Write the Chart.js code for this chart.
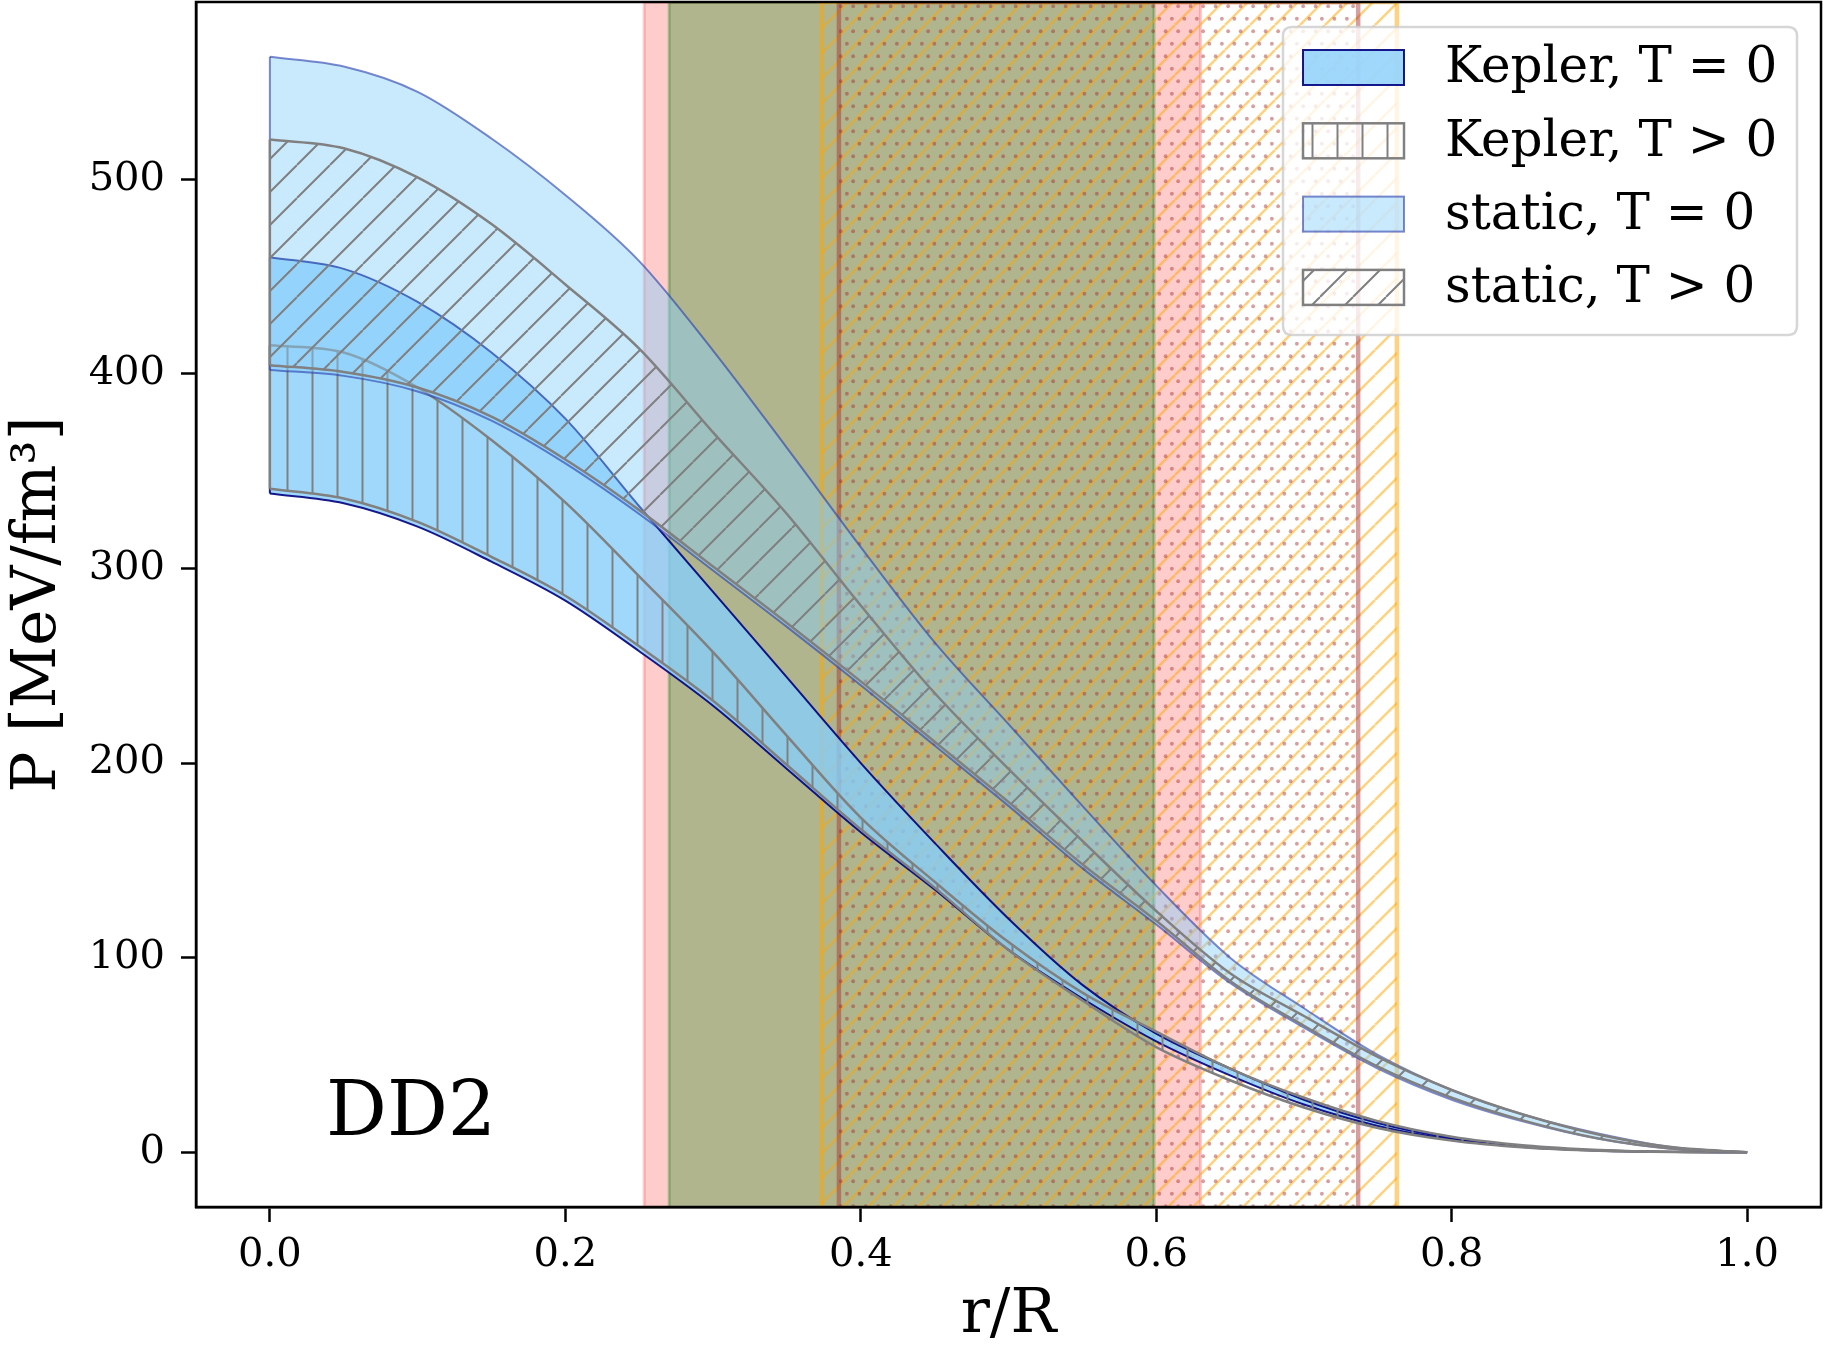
<!DOCTYPE html>
<html>
<head>
<meta charset="utf-8">
<script src="https://cdn.jsdelivr.net/npm/chart.js@4.4.1/dist/chart.umd.min.js"></script>
<style>
  html, body { margin: 0; padding: 0; background: #fff; }
  #wrap { position: relative; width: 1823px; height: 1347px; }
</style>
</head>
<body>
<div id="wrap"><canvas id="myChart"></canvas></div>
<script>
// r/R sample points, shared by every curve
const rGrid = [0, 0.05, 0.1, 0.15, 0.2, 0.25, 0.3, 0.35, 0.4, 0.45, 0.5,
               0.55, 0.6, 0.65, 0.7, 0.75, 0.8, 0.85, 0.9, 0.95, 1.0];

// pressure bands, P [MeV/fm^3]
const keplerColdHi = [460, 454, 437, 411, 377, 332, 288, 244, 200, 159, 120, 86, 61, 43, 27, 15, 7.2, 3, 1, 0.15, 0];
const keplerColdLo = [338.5, 333.5, 321.5, 303.5, 283.5, 257.5, 229.5, 197, 164.5, 135, 104, 79, 57, 39.5, 24.5, 13.5, 6.5, 2.6, 0.8, 0.12, 0];
const keplerHotHi  = [414.7, 411, 393, 366, 334, 296, 257, 214, 172, 139, 108, 82, 62, 43, 28, 16, 8, 3.5, 1.2, 0.2, 0];
const keplerHotLo  = [341, 336, 324, 306, 286, 260, 232, 199, 166, 136, 104, 78, 54, 37, 23, 12.5, 6, 2.4, 0.7, 0.1, 0];
const staticColdHi = [563, 558, 545, 521, 492, 458, 412, 362, 311, 262, 220, 178, 137, 100, 74, 50, 32, 19, 9.5, 2.5, 0];
const staticColdLo = [402, 399, 391, 376, 354, 328, 299, 270, 240, 209, 178, 146, 117, 87, 64, 43, 27, 15.5, 6.8, 1.7, 0];
const staticHotHi  = [520.5, 516, 501, 477, 446, 413, 370, 328, 281, 236, 197, 160, 124, 92, 70, 49, 32, 19, 9, 2.5, 0];
const staticHotLo  = [404.5, 401, 393, 378, 356, 330, 301, 272, 242, 211, 180, 148, 119, 88, 65, 44, 28, 16, 7, 1.8, 0];

const seriesLabels = ["Kepler, T = 0", "Kepler, T > 0", "static, T = 0", "static, T > 0"];

// shaded r/R ranges (pink, green, orange hatch, dots)
const spanFrom = [0.2534, 0.2703, 0.3736, 0.3852];
const spanTo   = [0.630, 0.5985, 0.7629, 0.7367];

const xTicks = [0, 0.2, 0.4, 0.6, 0.8, 1.0];
const yTicks = [0, 100, 200, 300, 400, 500];
const xMin = -0.05, xMax = 1.05;
const yMin = -28.15, yMax = 591.15;

const panelLabel = "DD2";
const panelAt = [0.038, 8.7];

const SERIF = "DejaVu Serif";

// hatch patterns
function linePattern(size, color, lw, draw) {
  const c = document.createElement("canvas");
  c.width = size; c.height = size;
  const g = c.getContext("2d");
  g.strokeStyle = color; g.lineWidth = lw;
  g.beginPath();
  draw(g, size);
  g.stroke();
  return g.createPattern(c, "repeat");
}
function vertical(g, s) { g.moveTo(s / 2, 0); g.lineTo(s / 2, s); }
function diagonal(g, s) {
  for (let k = -1; k <= 1; k++) { g.moveTo(k * s, s); g.lineTo(k * s + s, 0); }
}
function dotPattern(color) {
  const c = document.createElement("canvas");
  c.width = 25; c.height = 25;
  const g = c.getContext("2d");
  g.fillStyle = color;
  [[3.125, 6.25], [15.625, 6.25], [9.375, 18.75], [21.875, 18.75]].forEach(p => {
    g.beginPath(); g.arc(p[0], p[1], 1.9, 0, Math.PI * 2); g.fill();
  });
  return g.createPattern(c, "repeat");
}

const GRAY = "rgb(128,128,128)";
const vHatch = linePattern(25, GRAY, 2, vertical);
const dHatch = linePattern(33, GRAY, 2, diagonal);
const orangeHatch = linePattern(25, "rgba(255,165,0,0.5)", 2.5, diagonal);
const brownDots = dotPattern("rgba(165,42,42,0.45)");

const bandStyles = [
  { fill: "rgba(135,206,250,0.8)", edge: "rgba(0,0,128,0.9)", lw: 2, order: 4 },
  { fill: vHatch, edge: GRAY, lw: 2.5, order: 3 },
  { fill: "rgba(135,206,250,0.45)", edge: "rgba(40,60,170,0.6)", lw: 2, order: 2 },
  { fill: dHatch, edge: GRAY, lw: 2.5, order: 1 },
];
const spanStyles = [
  { fill: "rgba(255,0,0,0.2)", edge: "rgba(255,0,0,0.2)", lw: 3, order: 14 },
  { fill: "rgba(0,128,0,0.31)", edge: "rgba(0,128,0,0.31)", lw: 3, order: 13 },
  { fill: orangeHatch, edge: "rgba(255,165,0,0.5)", lw: 4.5, order: 12 },
  { fill: brownDots, edge: "rgba(165,42,42,0.45)", lw: 4.5, order: 11 },
];

function pts(ys) { return rGrid.map((r, i) => ({ x: r, y: ys[i] })); }

const bandData = [
  [keplerColdHi, keplerColdLo],
  [keplerHotHi, keplerHotLo],
  [staticColdHi, staticColdLo],
  [staticHotHi, staticHotLo],
];

const datasets = [];
bandData.forEach((b, k) => {
  const st = bandStyles[k];
  const hiIdx = datasets.length;
  const common = { pointRadius: 0, borderColor: st.edge, borderWidth: st.lw, order: st.order };
  datasets.push(Object.assign({ label: seriesLabels[k], data: pts(b[0]), fill: false,
    cubicInterpolationMode: "monotone" }, common));
  // closing edge at r = 0
  datasets.push(Object.assign({ data: [{ x: rGrid[0], y: b[0][0] }, { x: rGrid[0], y: b[1][0] }],
    fill: false }, common));
  datasets.push(Object.assign({ data: pts(b[1]), fill: { target: hiIdx },
    backgroundColor: st.fill, cubicInterpolationMode: "monotone" }, common));
});
spanFrom.forEach((a, k) => {
  const st = spanStyles[k];
  const b = spanTo[k];
  datasets.push({
    data: [{ x: a, y: yMin }, { x: a, y: yMax }, { x: b, y: yMax }, { x: b, y: yMin }],
    fill: "shape", backgroundColor: st.fill, borderColor: st.edge, borderWidth: st.lw,
    pointRadius: 0, tension: 0, clip: 0, order: st.order,
  });
});

function roundRect(ctx, x, y, w, h, r) {
  ctx.beginPath();
  ctx.moveTo(x + r, y);
  ctx.lineTo(x + w - r, y); ctx.quadraticCurveTo(x + w, y, x + w, y + r);
  ctx.lineTo(x + w, y + h - r); ctx.quadraticCurveTo(x + w, y + h, x + w - r, y + h);
  ctx.lineTo(x + r, y + h); ctx.quadraticCurveTo(x, y + h, x, y + h - r);
  ctx.lineTo(x, y + r); ctx.quadraticCurveTo(x, y, x + r, y);
  ctx.closePath();
}

const decor = {
  id: "decor",
  afterDatasetsDraw(chart) {
    const { ctx, chartArea: a, scales: { x, y } } = chart;
    ctx.save();

    // panel label
    ctx.font = "76px '" + SERIF + "'";
    ctx.fillStyle = "#000";
    ctx.textAlign = "left";
    ctx.textBaseline = "alphabetic";
    ctx.fillText(panelLabel, x.getPixelForValue(panelAt[0]), y.getPixelForValue(panelAt[1]));

    // legend box
    const lw = 514, lh = 308;
    const lx = a.right - 24 - lw, ly = a.top + 25;
    roundRect(ctx, lx, ly, lw, lh, 9);
    ctx.fillStyle = "rgba(255,255,255,0.8)";
    ctx.fill();
    ctx.lineWidth = 2.5;
    ctx.strokeStyle = "rgba(204,204,204,0.8)";
    ctx.stroke();

    ctx.font = "50px '" + SERIF + "'";
    ctx.textBaseline = "middle";
    seriesLabels.forEach((lab, k) => {
      const st = bandStyles[k];
      const cy = ly + 40.5 + k * 73.3;
      const px = lx + 20, pw = 101, ph = 35;
      ctx.fillStyle = st.fill;
      ctx.fillRect(px, cy - ph / 2, pw, ph);
      ctx.strokeStyle = st.edge;
      ctx.lineWidth = st.lw;
      ctx.strokeRect(px, cy - ph / 2, pw, ph);
      ctx.fillStyle = "#000";
      ctx.fillText(lab, lx + 162, cy + 2);
    });

    // axes frame
    ctx.strokeStyle = "#000";
    ctx.lineWidth = 2.5;
    ctx.strokeRect(a.left, a.top, a.right - a.left, a.bottom - a.top);
    ctx.restore();
  },
};

const config = {
  type: "line",
  data: { datasets },
  options: {
    responsive: true,
    maintainAspectRatio: false,
    animation: false,
    devicePixelRatio: 1,
    layout: { padding: { top: 2, right: 2, left: 0, bottom: 0 } },
    plugins: { legend: { display: false }, tooltip: { enabled: false } },
    scales: {
      x: {
        type: "linear", min: xMin, max: xMax,
        afterBuildTicks: s => { s.ticks = xTicks.map(v => ({ value: v })); },
        afterFit: s => { s.height = 140; s.paddingLeft = 0; s.paddingRight = 0; },
        ticks: { font: { family: SERIF, size: 40, lineHeight: 1.2 }, color: "#000", padding: 10,
                 maxRotation: 0, autoSkip: false, callback: v => v.toFixed(1) },
        grid: { drawOnChartArea: false, tickLength: 15, tickWidth: 2.5, tickColor: "#000" },
        border: { color: "#000", width: 2.5 },
        title: { display: true, text: "r/R", color: "#000",
                 font: { family: SERIF, size: 61, lineHeight: 1 }, padding: { top: 0, bottom: 0 } },
      },
      y: {
        type: "linear", min: yMin, max: yMax,
        afterBuildTicks: s => { s.ticks = yTicks.map(v => ({ value: v })); },
        afterFit: s => { s.width = 196; s.paddingTop = 0; s.paddingBottom = 0; },
        ticks: { font: { family: SERIF, size: 40 }, color: "#000", padding: 16,
                 autoSkip: false, callback: v => String(v) },
        grid: { drawOnChartArea: false, tickLength: 15, tickWidth: 2.5, tickColor: "#000" },
        border: { color: "#000", width: 2.5 },
        title: { display: true, text: "P [MeV/fm³]", color: "#000",
                 font: { family: SERIF, size: 61, lineHeight: 1 }, padding: { top: 8.5, bottom: 0 } },
      },
    },
  },
  plugins: [decor],
};

const myChart = new Chart(document.getElementById("myChart"), config);
</script>
</body>
</html>
